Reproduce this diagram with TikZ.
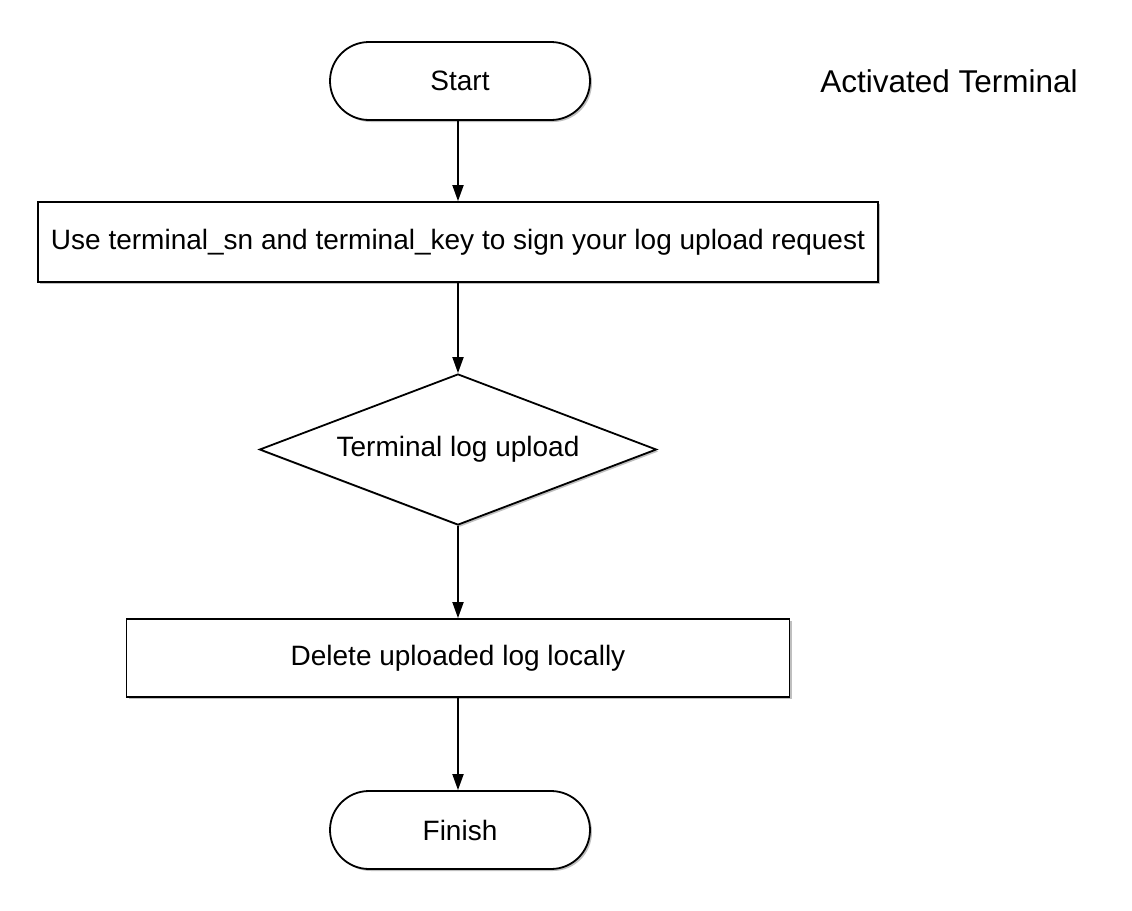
\documentclass[tikz,border=0pt]{standalone}
\usepackage{fontspec}
\setmainfont{Liberation Sans}
\usetikzlibrary{shapes.geometric,arrows.meta,shadows}
\begin{document}
\begin{tikzpicture}[x=1pt,y=-1pt,
  base/.style={draw=black, line width=1.8pt, fill=white, font=\fontsize{28}{33}\selectfont,
    drop shadow={shadow xshift=2pt, shadow yshift=-2pt, opacity=0.25, fill=black}},
  term/.style={base, rectangle, rounded corners=39pt, minimum width=260pt, minimum height=78pt, inner sep=0pt},
  procbox/.style={base, rectangle, minimum height=80pt, inner sep=0pt},
  decision/.style={base, diamond, aspect=2.63, minimum width=397pt, minimum height=151pt, inner sep=0pt},
  flow/.style={line width=1.8pt, -{Triangle[length=16pt, width=11pt]}}
]
\path[use as bounding box] (0,0) rectangle (1132,910);
\node[term] (start) at (460,81) {Start};
\node[procbox, minimum width=840pt] (sign) at (458,242) {Use terminal\_sn and terminal\_key to sign your log upload request};
\node[decision] (upload) at (458,449.5) {Terminal log upload};
\node[procbox, minimum width=663pt, minimum height=78pt] (delete) at (458,658) {Delete uploaded log locally};
\node[term] (finish) at (460,830) {Finish};
\node[font=\fontsize{31.5}{37}\selectfont] (label) at (949,81) {Activated Terminal};
\draw[flow] (start.south -| sign.north) -- (sign.north);
\draw[flow] (sign) -- (upload);
\draw[flow] (upload) -- (delete);
\draw[flow] (delete.south) -- (delete.south |- finish.north);
\end{tikzpicture}
\end{document}
